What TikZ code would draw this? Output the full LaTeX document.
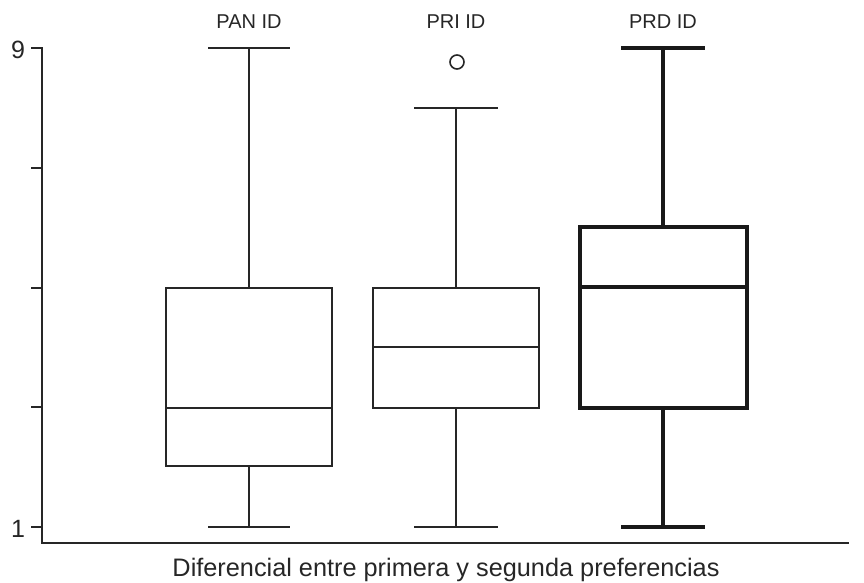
\documentclass[tikz,border=0pt]{standalone}
\usepackage{fontspec}
\setmainfont{Liberation Sans}
\usetikzlibrary{positioning}
\tikzstyle{axisline} = [line width=1.4pt, black!85, line cap=rect]
\tikzstyle{thinplot} = [line width=1.6pt, black!85]
\tikzstyle{boldplot} = [line width=3.4pt, black!90]
\tikzstyle{grouplabel} = [font=\fontsize{20}{23}\selectfont, text=black!85, inner sep=0pt]
\tikzstyle{ticklabel} = [font=\fontsize{25}{28}\selectfont, text=black!85, inner sep=0pt]
\tikzstyle{axistitle} = [font=\fontsize{25.3}{28}\selectfont, text=black!85, inner sep=0pt, anchor=base]

\begin{document}
\begin{tikzpicture}[x=1pt, y=-1pt]
\useasboundingbox (0,0) rectangle (864,583);

% Axes
\coordinate (axis_top) at (42,48);
\coordinate (origin) at (42,543);
\coordinate (axis_right) at (848,543);
\draw [axisline] (axis_top) -- (origin) -- (axis_right);
\draw [axisline] (32,48) -- (42,48);
\draw [axisline] (32,168) -- (42,168);
\draw [axisline] (32,288) -- (42,288);
\draw [axisline] (32,407) -- (42,407);
\draw [axisline] (32,527) -- (42,527);
\node (tick_nine) [ticklabel] at (18,50) {9};
\node (tick_one) [ticklabel] at (18,529) {1};

% PAN ID
\coordinate (pan_max) at (249,48);
\coordinate (pan_q3) at (249,288);
\coordinate (pan_q1) at (249,466);
\coordinate (pan_min) at (249,527);
\draw [thinplot] (pan_max) -- (pan_q3);
\draw [thinplot] (pan_q1) -- (pan_min);
\draw [thinplot] (208,48) -- (290,48);
\draw [thinplot] (208,527) -- (290,527);
\draw [thinplot] (166,288) rectangle (332,466);
\draw [thinplot] (166,408) -- (332,408);
\node (pan_label) [grouplabel] at (249,22) {PAN ID};

% PRI ID
\coordinate (pri_max) at (456,108);
\coordinate (pri_q3) at (456,288);
\coordinate (pri_q1) at (456,408);
\coordinate (pri_min) at (456,527);
\draw [thinplot] (pri_max) -- (pri_q3);
\draw [thinplot] (pri_q1) -- (pri_min);
\draw [thinplot] (414,108) -- (498,108);
\draw [thinplot] (414,527) -- (498,527);
\draw [thinplot] (373,288) rectangle (539,408);
\draw [thinplot] (373,347) -- (539,347);
\draw [thinplot] (457,62) circle (7);
\node (pri_label) [grouplabel] at (456,22) {PRI ID};

% PRD ID
\coordinate (prd_max) at (663,48);
\coordinate (prd_q3) at (663,227);
\coordinate (prd_q1) at (663,408);
\coordinate (prd_min) at (663,527);
\draw [boldplot] (prd_max) -- (prd_q3);
\draw [boldplot] (prd_q1) -- (prd_min);
\draw [boldplot] (621,48) -- (705,48);
\draw [boldplot] (621,527) -- (705,527);
\draw [boldplot] (580,227) rectangle (747,408);
\draw [boldplot] (580,287) -- (747,287);
\node (prd_label) [grouplabel] at (663,22) {PRD ID};

% Axis title
\node (xtitle) [axistitle] at (446,576) {Diferencial entre primera y segunda preferencias};

\end{tikzpicture}
\end{document}
